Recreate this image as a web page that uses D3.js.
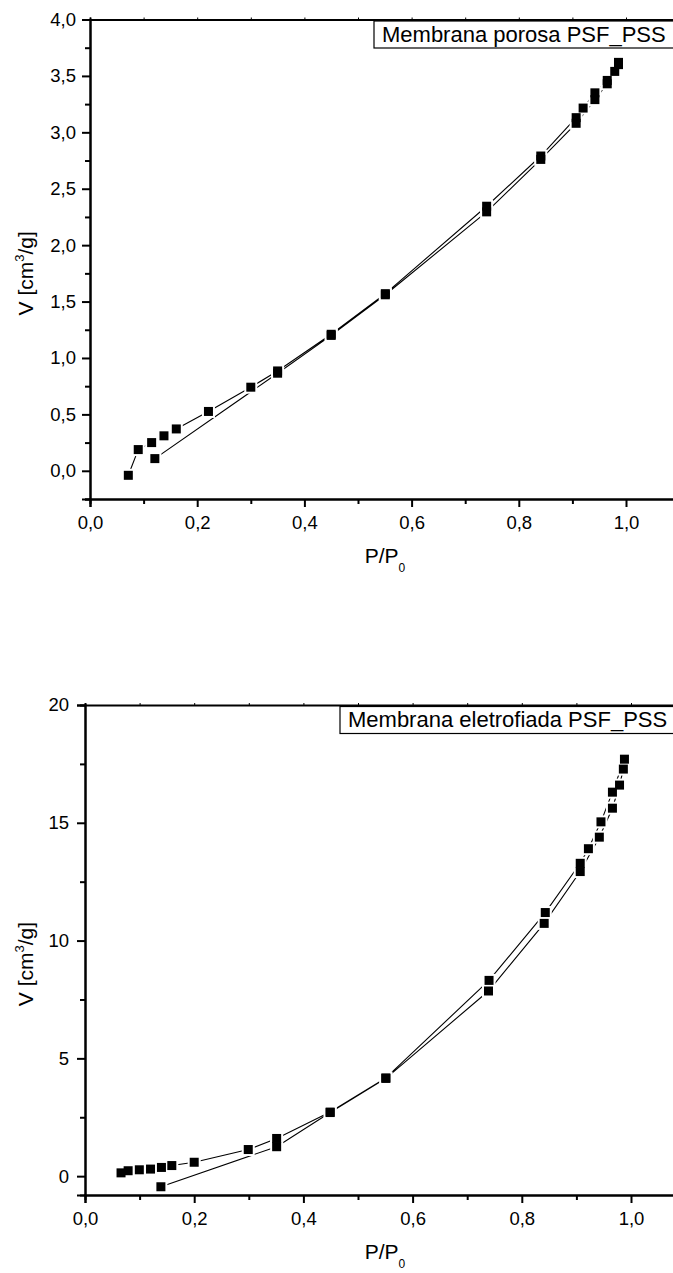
<!DOCTYPE html>
<html>
<head>
<meta charset="utf-8">
<script src="https://cdn.jsdelivr.net/npm/d3@7"></script>
<style>
  html, body { margin: 0; padding: 0; background: #fff; }
  svg { display: block; }
  text { font-family: "Liberation Sans", Arial, sans-serif; fill: #000; }
</style>
</head>
<body>
<svg id="chart" width="673" height="1273"></svg>
<script>
// ---------- DATA ----------
// Chart 1: Membrana porosa PSF_PSS  (one continuous isotherm: adsorption then desorption)
const porosaP = [0.121, 0.35, 0.45, 0.551, 0.74, 0.841, 0.907, 0.942, 0.965, 0.986,
                 0.986, 0.979, 0.965, 0.942, 0.920, 0.907, 0.841, 0.74, 0.551, 0.45,
                 0.35, 0.30, 0.221, 0.161, 0.138, 0.115, 0.090, 0.0715];
const porosaV = [0.108, 0.865, 1.20, 1.56, 2.295, 2.76, 3.08, 3.29, 3.43, 3.60,
                 3.62, 3.54, 3.46, 3.35, 3.215, 3.13, 2.79, 2.345, 1.57, 1.21,
                 0.885, 0.741, 0.526, 0.371, 0.31, 0.25, 0.188, -0.04];

// Chart 2: Membrana eletrofiada PSF_PSS
const eletroP = [0.139, 0.351, 0.449, 0.551, 0.739, 0.841, 0.907, 0.942, 0.966, 0.979, 0.986, 0.988,
                 0.966, 0.945, 0.922, 0.907, 0.843, 0.74, 0.551, 0.449, 0.351, 0.299, 0.200,
                 0.159, 0.140, 0.120, 0.0995, 0.079, 0.066];
const eletroV = [-0.45, 1.25, 2.70, 4.15, 7.86, 10.73, 12.93, 14.39, 15.62, 16.60, 17.28, 17.70,
                 16.30, 15.04, 13.9, 13.28, 11.19, 8.31, 4.17, 2.72, 1.60, 1.13, 0.59,
                 0.45, 0.37, 0.30, 0.27, 0.23, 0.14];

// Tick values
const xMajorTicks = [0.0, 0.2, 0.4, 0.6, 0.8, 1.0];
const xMinorTicks = [0.1, 0.3, 0.5, 0.7, 0.9, 1.1];
const porosaYMajor = [0.0, 0.5, 1.0, 1.5, 2.0, 2.5, 3.0, 3.5, 4.0];
const porosaYMinor = [-0.25, 0.25, 0.75, 1.25, 1.75, 2.25, 2.75, 3.25, 3.75];
const eletroYMajor = [0, 5, 10, 15, 20];
const eletroYMinor = [2.5, 7.5, 12.5, 17.5];

const legend1 = "Membrana porosa PSF_PSS";
const legend2 = "Membrana eletrofiada PSF_PSS";
const xLabelMain = "P/P", xLabelSub = "0";

// ---------- DRAWING ----------
const svg = d3.select("#chart");
const loc = d3.formatLocale({decimal: ",", thousands: ".", grouping: [3], currency: ["", ""]});
const f1 = loc.format(".1f");
const f0 = loc.format("d");

function drawPanel(cfg) {
  const g = svg.append("g");
  const x = d3.scaleLinear().domain([0, 1.1]).range([cfg.left, cfg.left + cfg.xUnit * 1.1]);
  const y = d3.scaleLinear().domain(cfg.yDomain).range([cfg.bottom, cfg.top]);

  const xAxis = d3.axisBottom(x).tickValues(xMajorTicks).tickFormat(f1).tickSize(8).tickPadding(9);
  const yAxis = d3.axisLeft(y).tickValues(cfg.yMajor).tickFormat(cfg.yFmt).tickSize(8).tickPadding(cfg.yPad);
  const xMinor = d3.axisBottom(x).tickValues(xMinorTicks).tickFormat("").tickSize(5);
  const yMinor = d3.axisLeft(y).tickValues(cfg.yMinor).tickFormat("").tickSize(5);
  const xTop = d3.axisTop(x).tickValues(xMajorTicks.concat(xMinorTicks)).tickFormat("").tickSize(2);

  function style(sel) {
    sel.select(".domain").attr("stroke", "#000").attr("stroke-width", 2);
    sel.selectAll(".tick line").attr("stroke", "#000").attr("stroke-width", 2);
    sel.selectAll(".tick text").attr("font-size", "18.5px")
       .attr("font-family", "Liberation Sans, Arial, sans-serif").attr("fill", "#000");
  }
  g.append("g").attr("transform", `translate(0,${cfg.bottom})`).call(xMinor).call(style);
  g.append("g").attr("transform", `translate(${cfg.left},0)`).call(yMinor).call(style);
  g.append("g").attr("transform", `translate(0,${cfg.top})`).call(xTop).call(style)
    .selectAll(".tick line").attr("stroke-width", 1);
  g.append("g").attr("transform", `translate(0,${cfg.bottom})`).call(xAxis).call(style);
  g.append("g").attr("transform", `translate(${cfg.left},0)`).call(yAxis).call(style);

  // Data line
  const pts = cfg.px.map((p, i) => [p, cfg.py[i]]);
  const line = d3.line().x(d => x(d[0])).y(d => y(d[1]));
  g.append("path").datum(pts).attr("d", line)
    .attr("fill", "none").attr("stroke", "#000").attr("stroke-width", 1.1);

  // Marker halos, then markers
  const ms = 9, halo = 2;
  g.append("g").selectAll("rect").data(pts).join("rect")
    .attr("x", d => x(d[0]) - ms / 2 - halo).attr("y", d => y(d[1]) - ms / 2 - halo)
    .attr("width", ms + 2 * halo).attr("height", ms + 2 * halo).attr("fill", "#fff");
  g.append("g").selectAll("rect").data(pts).join("rect")
    .attr("x", d => x(d[0]) - ms / 2).attr("y", d => y(d[1]) - ms / 2)
    .attr("width", ms).attr("height", ms).attr("fill", "#000");

  // Legend box
  const lg = g.append("g");
  const lbox = lg.append("rect");
  const lt = lg.append("text").attr("x", cfg.legX + 8).attr("y", cfg.top + 22)
    .attr("font-size", "22px").text(cfg.legend);
  const bw = lt.node().getComputedTextLength();
  lbox.attr("x", cfg.legX).attr("y", cfg.top + 1.5)
    .attr("width", bw + 16).attr("height", 27)
    .attr("fill", "#fff").attr("stroke", "#000").attr("stroke-width", 1.2);

  // X label
  const xl = g.append("text").attr("x", 385).attr("y", cfg.bottom + 64)
    .attr("text-anchor", "middle").attr("font-size", "21px");
  xl.append("tspan").text(xLabelMain);
  xl.append("tspan").attr("font-size", "12px").attr("dy", 9).text(xLabelSub);

  // Y label
  const cy = (cfg.top + cfg.bottom) / 2 + 14;
  const yl = g.append("text").attr("transform", `translate(33,${cy}) rotate(-90)`)
    .attr("text-anchor", "middle").attr("font-size", "21px");
  yl.append("tspan").text("V [cm");
  yl.append("tspan").attr("font-size", "13px").attr("dy", -9).text("3");
  yl.append("tspan").attr("dy", 9).text("/g]");
}

drawPanel({
  left: 90, xUnit: 536, top: 19.5, bottom: 499, yDomain: [-0.25, 4.0],
  yMajor: porosaYMajor, yMinor: porosaYMinor, yFmt: f1, yPad: 6,
  px: porosaP, py: porosaV, legend: legend1, legX: 374
});
drawPanel({
  left: 85, xUnit: 546, top: 705, bottom: 1195, yDomain: [-0.8, 20],
  yMajor: eletroYMajor, yMinor: eletroYMinor, yFmt: f0, yPad: 8,
  px: eletroP, py: eletroV, legend: legend2, legX: 340
});
</script>
</body>
</html>
